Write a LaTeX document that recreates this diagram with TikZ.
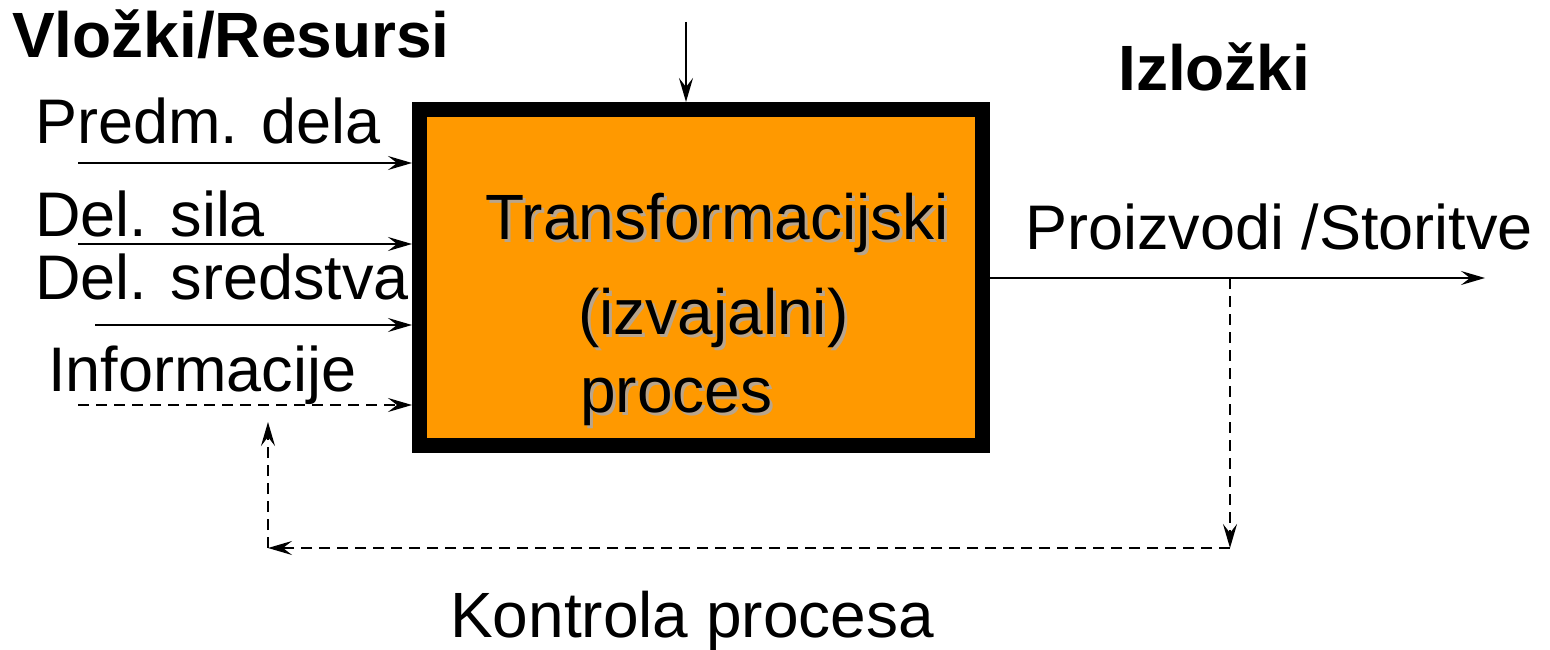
\documentclass[tikz,border=0pt]{standalone}
\usepackage{fontspec}
\setmainfont{Liberation Sans}
\usetikzlibrary{arrows.meta}
\definecolor{boxorange}{RGB}{255,153,0}
\definecolor{shadowgray}{RGB}{185,165,140}
\tikzset{
  x=1pt, y=-1pt,
  lbl/.style={anchor=base west, inner sep=0pt, font=\fontsize{63}{70}\selectfont},
  ttl/.style={anchor=base west, inner sep=0pt, font=\fontsize{64}{70}\selectfont\bfseries},
  flow/.style={line width=2.2pt, -{Stealth[length=24pt,width=14pt,inset=9pt]}},
  dflow/.style={flow, dash pattern=on 11pt off 7pt},
  procbox/.style={draw=black, fill=boxorange, line width=15pt, minimum width=563pt, minimum height=336pt, inner sep=0pt},
  boxtxt/.style={anchor=base west, inner sep=0pt, font=\fontsize{64}{70}\selectfont}
}
\begin{document}
\begin{tikzpicture}
\useasboundingbox (0,0) rectangle (1550,650);
% process box
\node[procbox] (box) at (701,277.5) {};
% box texts with shadow
\foreach \t/\px/\py in {Transformacijski/485/239, (izvajalni)/578/334, proces/580/412}{
  \node[boxtxt, text=shadowgray] at (\px+3,\py+3) {\t};
}
\node[boxtxt] (t1) at (485,239) {Transformacijski};
\node[boxtxt] (t2) at (578,334) {(izvajalni)};
\node[boxtxt] (t3) at (580,412) {proces};
% titles
\node[ttl] (vlozki) at (12,58) {Vložki/Resursi};
\node[ttl] (izlozki) at (1118,91) {Izložki};
% input labels
\node[lbl] (predm) at (35,143) {Predm. dela};
\node[lbl] (sila) at (35,236) {Del. sila};
\node[lbl] (sred) at (35,299) {Del. sredstva};
\node[lbl] (info) at (48,391) {Informacije};
% output and control labels
\node[lbl] (proiz) at (1025,249) {Proizvodi /Storitve};
\node[lbl, font=\fontsize{64}{70}\selectfont] (kontr) at (450,637) {Kontrola procesa};
% input arrows
\coordinate (s1) at (78,163);
\coordinate (s2) at (78,244);
\coordinate (s3) at (95,325);
\coordinate (s4) at (78,405);
\draw[flow] (s1) -- (s1 -| box.west);
\draw[flow] (s2) -- (s2 -| box.west);
\draw[flow] (s3) -- (s3 -| box.west);
\draw[dflow] (s4) -- (s4 -| box.west);
% top arrow
\coordinate (top) at (686,22);
\draw[flow] (top) -- (top |- box.north);
% output arrow
\coordinate (outend) at (1485,278);
\draw[flow] (box.east |- outend) -- (outend);
% feedback loop
\coordinate (fb0) at (1230,278);
\coordinate (fb1) at (1230,548);
\coordinate (fb2) at (268,548);
\coordinate (fb3) at (268,422);
\draw[dflow] (fb0) -- (fb1);
\draw[dflow] (fb1) -- (fb2);
\draw[dflow] (fb2) -- (fb3);
\end{tikzpicture}
\end{document}
